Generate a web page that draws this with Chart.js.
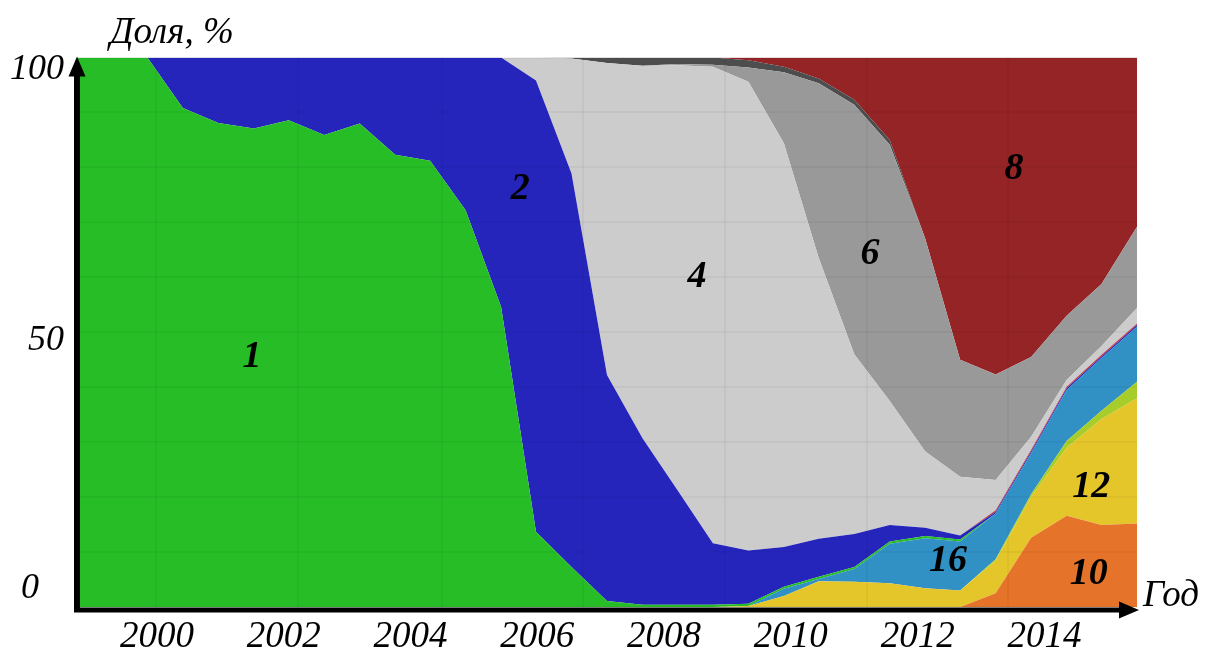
<!DOCTYPE html>
<html>
<head>
<meta charset="utf-8">
<script src="https://cdn.jsdelivr.net/npm/chart.js@4.4.1/dist/chart.umd.min.js"></script>
<style>
    html, body { margin: 0; padding: 0; background: #fff; }
    #wrap { width: 1205px; height: 648px; position: relative; }
</style>
</head>
<body>
<div id="wrap"><canvas id="shareChart"></canvas></div>
<script>
// time points (years)
const years = [1998.74, 1999.30, 1999.85, 2000.41, 2000.97, 2001.53, 2002.08, 2002.64, 2003.20, 2003.76,
    2004.31, 2004.87, 2005.43, 2005.98, 2006.54, 2007.10, 2007.66, 2008.21, 2008.77, 2009.33,
    2009.89, 2010.44, 2011.00, 2011.56, 2012.12, 2012.67, 2013.23, 2013.79, 2014.35, 2014.90, 2015.46];

// shares, % (stacked from the bottom in this order: 10, 12, 14, 16, 1, 2, 3, 4, 6, 7, 8)
const series10 = [0,0,0,0,0,0,0,0,0,0, 0,0,0,0,0,0,0,0,0,0, 0,0,0,0,0,0, 2.5,12.6,16.6,14.9,15.2];
const series12 = [0,0,0,0,0,0,0,0,0,0, 0,0,0,0,0,0,0,0,0, 0.2, 2.0,4.7,4.6,4.3,3.4,3.0, 5.9,7.4,12.4,19.3,22.8];
const series14 = [0,0,0,0,0,0,0,0,0,0, 0,0,0,0,0,0,0,0,0,0, 0,0,0,0,0,0, 0.3,0.5,1.2,1.5,3.0];
const series16 = [0,0,0,0,0,0,0,0,0,0, 0,0,0,0,0,0,0,0,0,0, 1.3,0.4,2.3,7.2,9.1,8.9, 8.3,7.5,9.3,9.6,10.0];
const series1 = [100,100,100,90.8,88.1,87.1,88.6,85.9,88.0,82.3, 81.2,72.2,54.6,13.7,7.3,1.1,0.4,0.4,0.4,0.4,
    0.4,0.4,0.4,0.4,0.4,0.4, 0,0,0,0,0];
const series2 = [0,0,0,9.2,11.9,12.9,11.4,14.1,12.0,17.7, 18.8,27.8,45.4,82.1,71.6,41.1,30.3,20.9,11.2,9.7,
    7.2,6.9,6.0,3.0,1.5,0.7, 0.3,0.3,0.3,0.3,0.3];
const series3 = [0,0,0,0,0,0,0,0,0,0, 0,0,0,0,0,0,0,0,0,0, 0,0,0,0,0,0, 0.3,0.3,0.3,0.3,0.3];
const series4 = [0,0,0,0,0,0,0,0,0,0, 0,0,0,4.2,20.9,56.8,67.8,77.3,86.7,85.3,
    73.5,51.1,32.7,22.6,13.9,10.7, 5.5,2.4,1.2,1.6,2.8];
const series6 = [0,0,0,0,0,0,0,0,0,0, 0,0,0,0,0,0,0,0.2,0.4,2.6,
    12.9,31.8,45.4,46.6,38.7,21.3, 19.2,14.5,11.7,11.3,14.8];
const series7 = [0,0,0,0,0,0,0,0,0,0, 0,0,0,0,0.2,1.0,1.5,1.2,1.3,1.3,
    1.0,0.9,0.9,0.9,0,0, 0,0,0,0,0];
const series8 = [0,0,0,0,0,0,0,0,0,0, 0,0,0,0,0,0,0,0,0,0.5,
    1.7,3.8,7.7,15.0,33.0,55.0, 57.7,54.5,47.0,41.2,30.8];

const yearTicks = [2000, 2002, 2004, 2006, 2008, 2010, 2012, 2014];
const gridYears = [1999.99, 2002.23, 2004.50, 2006.72, 2008.96, 2011.20, 2013.42];
const yLabels = [100, 50, 0];

// area labels: [text, year, share]
const areaLabels = [
    ['1', 2001.50, 45.5], ['2', 2005.73, 76.1], ['4', 2008.52, 60.0], ['6', 2011.25, 64.2],
    ['8', 2013.52, 79.7], ['16', 2012.48, 8.4], ['12', 2014.74, 21.8], ['10', 2014.70, 6.0]
];

const layers = [
    { name: '10', values: series10, color: '#e6732a' },
    { name: '12', values: series12, color: '#e4c52a' },
    { name: '14', values: series14, color: '#a7cd2b' },
    { name: '16', values: series16, color: '#3191c5' },
    { name: '1', values: series1, color: '#26bd26' },
    { name: '2', values: series2, color: '#2525bc' },
    { name: '3', values: series3, color: '#c43c46' },
    { name: '4', values: series4, color: '#cccccc' },
    { name: '6', values: series6, color: '#999999' },
    { name: '7', values: series7, color: '#4d4d4d' },
    { name: '8', values: series8, color: '#952427' }
];

const serif = '"Liberation Serif", "Times New Roman", serif';

const decorPlugin = {
    id: 'decor',
    afterDraw(chart) {
        const { ctx, chartArea: a, scales } = chart;
        const x = scales.x, y = scales.y;
        ctx.save();
        ctx.fillStyle = '#000';
        ctx.strokeStyle = '#000';

        // y axis with arrow
        ctx.lineWidth = 6;
        ctx.beginPath();
        ctx.moveTo(a.left, a.bottom + 5);
        ctx.lineTo(a.left, a.top + 15);
        ctx.stroke();
        ctx.beginPath();
        ctx.moveTo(a.left, a.top - 1);
        ctx.lineTo(a.left - 8.5, a.top + 19);
        ctx.lineTo(a.left + 8.5, a.top + 19);
        ctx.closePath();
        ctx.fill();

        // x axis with arrow
        ctx.lineWidth = 5;
        ctx.beginPath();
        ctx.moveTo(a.left - 3, a.bottom + 3);
        ctx.lineTo(a.right - 12, a.bottom + 3);
        ctx.stroke();
        ctx.beginPath();
        ctx.moveTo(a.right + 2, a.bottom + 3);
        ctx.lineTo(a.right - 18, a.bottom - 5.5);
        ctx.lineTo(a.right - 18, a.bottom + 11.5);
        ctx.closePath();
        ctx.fill();

        // axis titles
        ctx.font = 'italic 37px ' + serif;
        ctx.textAlign = 'left';
        ctx.textBaseline = 'alphabetic';
        ctx.fillText('Доля, %', 110, 43);
        ctx.fillText('Год', a.right + 6, a.bottom - 1);

        // y labels
        ctx.font = 'italic 36px ' + serif;
        ctx.textAlign = 'center';
        ctx.textBaseline = 'middle';
        const shift = { 100: [37, 12], 50: [46, 8], 0: [30, -18] };
        yLabels.forEach(v => {
            ctx.fillText(String(v), shift[v][0], y.getPixelForValue(v) + shift[v][1]);
        });

        // area numbers
        ctx.font = 'italic bold 38px ' + serif;
        areaLabels.forEach(([t, yr, v]) => {
            ctx.fillText(t, x.getPixelForValue(yr), y.getPixelForValue(v));
        });
        ctx.restore();
    }
};

Chart.defaults.font.family = serif;

new Chart(document.getElementById('shareChart'), {
    type: 'line',
    data: {
        datasets: layers.map((s, i) => ({
            label: s.name,
            data: years.map((yr, k) => ({ x: yr, y: s.values[k] })),
            backgroundColor: s.color,
            borderWidth: 0,
            fill: i === 0 ? 'origin' : '-1',
            pointRadius: 0,
            tension: 0
        }))
    },
    options: {
        responsive: true,
        maintainAspectRatio: false,
        animation: false,
        layout: { padding: { top: 57.5, right: 68, left: 0, bottom: 0 } },
        plugins: { legend: { display: false }, tooltip: { enabled: false } },
        scales: {
            x: {
                type: 'linear',
                min: years[0],
                max: years[years.length - 1],
                afterBuildTicks: axis => { axis.ticks = yearTicks.map(v => ({ value: v })); },
                afterFit: axis => { axis.height = 41; },
                grid: { display: false, drawTicks: false },
                border: { display: false },
                ticks: {
                    autoSkip: false,
                    maxRotation: 0,
                    padding: 8,
                    color: '#000',
                    font: { size: 37, style: 'italic' },
                    callback: v => String(v)
                }
            },
            xg: {
                type: 'linear',
                position: 'bottom',
                min: years[0],
                max: years[years.length - 1],
                afterBuildTicks: axis => { axis.ticks = gridYears.map(v => ({ value: v })); },
                afterFit: axis => { axis.height = 0; },
                grid: { z: 1, color: 'rgba(0,0,0,0.035)', lineWidth: 2, drawTicks: false },
                border: { display: false },
                ticks: { display: false }
            },
            y: {
                type: 'linear',
                stacked: true,
                min: 0,
                max: 100,
                afterFit: axis => { axis.width = 77; },
                grid: { z: 1, color: 'rgba(0,0,0,0.035)', lineWidth: 2, drawTicks: false },
                border: { display: false },
                ticks: { display: false, stepSize: 10 }
            }
        }
    },
    plugins: [decorPlugin]
});
</script>
</body>
</html>
